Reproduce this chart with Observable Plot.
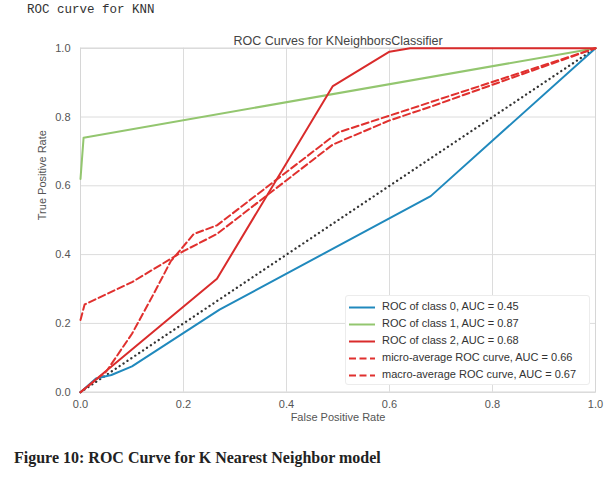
<!DOCTYPE html>
<html><head><meta charset="utf-8">
<script src="https://cdn.jsdelivr.net/npm/d3@7"></script>
<script src="https://cdn.jsdelivr.net/npm/@observablehq/plot@0.6"></script>
<style>
body{margin:0;background:#fff;}
#wrap{position:relative;width:612px;height:477px;overflow:hidden;background:#fff;}
#top{position:absolute;left:27px;top:3px;font:12.5px "Liberation Mono","DejaVu Sans Mono",monospace;color:#333;z-index:2;}
#chart{position:absolute;left:0;top:0;z-index:1;}
#legend{position:absolute;left:345px;top:295px;width:245px;height:90px;background:#fff;border:1px solid #ececec;border-radius:3px;box-sizing:border-box;z-index:2;}
.row{position:absolute;left:0;height:17px;font:11px "Liberation Sans",Arial,sans-serif;color:#333;white-space:nowrap;}
.row svg{position:absolute;left:2px;top:0;}
.row span{position:absolute;left:36px;top:1px;}
#caption{position:absolute;left:14px;top:449px;font:bold 16px "Liberation Serif","DejaVu Serif",serif;color:#222;z-index:2;}
</style></head>
<body>
<div id="wrap">
  <div id="chart"></div>
  <div id="top"></div>
  <div id="legend"></div>
  <div id="caption"></div>
</div>
<script>
// ---- data ----
const fpr0 = [0, 0.03, 0.06, 0.10, 0.27, 0.68, 1];
const tpr0 = [0, 0.04, 0.05, 0.075, 0.24, 0.57, 1];
const fpr1 = [0, 0.006, 1];
const tpr1 = [0.62, 0.74, 1];
const fpr2 = [0, 0.265, 0.49, 0.60, 0.64, 1];
const tpr2 = [0, 0.33, 0.89, 0.99, 1.0, 1];
const fprMicro = [0, 0.05, 0.10, 0.14, 0.175, 0.22, 0.265, 0.50, 1];
const tprMicro = [0, 0.06, 0.17, 0.28, 0.38, 0.46, 0.485, 0.755, 1];
const fprMacro = [0, 0.008, 0.10, 0.20, 0.265, 0.49, 0.60, 0.68, 1];
const tprMacro = [0.21, 0.255, 0.32, 0.41, 0.46, 0.72, 0.79, 0.83, 1];
const fprDiag = [0, 1];
const tprDiag = [0, 1];

const seriesNames = ["ROC of class 0, AUC = 0.45","ROC of class 1, AUC = 0.87","ROC of class 2, AUC = 0.68","micro-average ROC curve, AUC = 0.66","macro-average ROC curve, AUC = 0.67"];
const seriesColors = ["#2089bd","#93c66f","#d92b2b","#e0302e","#e0302e"];
const seriesDash = [null,null,null,"7,3.5","7,3.5"];
const ticks = [0, 0.2, 0.4, 0.6, 0.8, 1.0];
const topText = "ROC curve for KNN";
const title = "ROC Curves for KNeighborsClassifier";
const xLabel = "False Positive Rate";
const yLabel = "True Positive Rate";
const caption = "Figure 10: ROC Curve for K Nearest Neighbor model";

const pts = (xs, ys) => xs.map((x, i) => ({fpr: x, tpr: ys[i]}));
const series = [pts(fpr0,tpr0), pts(fpr1,tpr1), pts(fpr2,tpr2), pts(fprMicro,tprMicro), pts(fprMacro,tprMacro)];

const fmt = d3.format(".1f");
const chart = Plot.plot({
  width: 612, height: 430,
  marginTop: 47.7, marginBottom: 38.3, marginLeft: 80, marginRight: 17,
  style: {fontFamily: "'Liberation Sans', Arial, sans-serif", fontSize: "11px", color: "#555", background: "transparent"},
  x: {domain: [0, 1]},
  y: {domain: [0, 1]},
  marks: [
    Plot.gridX(ticks, {stroke: "#dcdcdc", strokeOpacity: 1, strokeWidth: 1}),
    Plot.gridY(ticks, {stroke: "#dcdcdc", strokeOpacity: 1, strokeWidth: 1}),
    Plot.frame({stroke: "#d6d6d6", strokeWidth: 1}),
    Plot.axisX(ticks, {tickFormat: fmt, tickSize: 0, tickPadding: 8, label: null, fill: "#555"}),
    Plot.axisY(ticks, {tickFormat: fmt, tickSize: 0, tickPadding: 10, label: null, fill: "#555"}),
    Plot.line(pts(fprDiag, tprDiag), {x: "fpr", y: "tpr", stroke: "#333", strokeWidth: 2.3, strokeDasharray: "0.1,4.6", strokeLinecap: "round"}),
    ...series.map((d, i) => Plot.line(d, {x: "fpr", y: "tpr", stroke: seriesColors[i], strokeWidth: 2, strokeDasharray: seriesDash[i] ?? undefined})),
    Plot.text([title], {text: d => d, frameAnchor: "top", dy: -12.5, fontSize: 12.5, fill: "#444"}),
    Plot.text([xLabel], {text: d => d, frameAnchor: "bottom", dy: 28.5, fontSize: 11, fill: "#555"}),
    Plot.text([yLabel], {text: d => d, frameAnchor: "left", dx: -38, rotate: -90, fontSize: 11, fill: "#555"})
  ]
});
document.getElementById("chart").appendChild(chart);
document.getElementById("top").textContent = topText;
document.getElementById("caption").textContent = caption;

const legend = document.getElementById("legend");
seriesNames.forEach((name, i) => {
  const row = document.createElement("div");
  row.className = "row";
  row.style.top = (2.5 + i * 17.2) + "px";
  const ns = "http://www.w3.org/2000/svg";
  const svg = document.createElementNS(ns, "svg");
  svg.setAttribute("width", 28); svg.setAttribute("height", 17);
  const ln = document.createElementNS(ns, "line");
  ln.setAttribute("x1", 1); ln.setAttribute("x2", 27);
  ln.setAttribute("y1", 8.5); ln.setAttribute("y2", 8.5);
  ln.setAttribute("stroke", seriesColors[i]); ln.setAttribute("stroke-width", 2);
  if (seriesDash[i]) ln.setAttribute("stroke-dasharray", seriesDash[i]);
  svg.appendChild(ln);
  const span = document.createElement("span");
  span.textContent = name;
  row.appendChild(svg); row.appendChild(span);
  legend.appendChild(row);
});
</script>
</body></html>
